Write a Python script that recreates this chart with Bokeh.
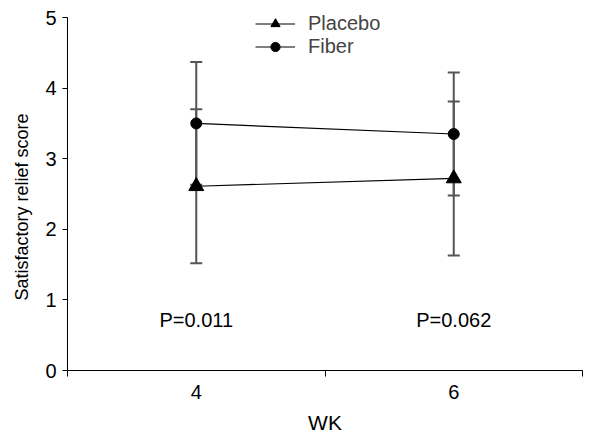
from bokeh.plotting import figure
from bokeh.models import (Range1d, FixedTicker, Whisker, TeeHead, ColumnDataSource,
                          Legend, LegendItem, Label)
from bokeh.embed import file_html
from bokeh.resources import INLINE

weeks = ["4", "6"]
placebo_mean = [2.61, 2.72]
placebo_sd = [1.09, 1.09]
fiber_mean = [3.50, 3.35]
fiber_sd = [0.87, 0.87]
p_values = ["P=0.011", "P=0.062"]
p_label_y = 0.72
y_ticks = [0, 1, 2, 3, 4, 5]

FONT = "Liberation Sans"
xs = [i + 0.5 for i in range(len(weeks))]

# frame spans pixel 8..370; value 5 sits at pixel 17 (70.6 px per unit)
p = figure(width=591, height=436, output_backend="svg", toolbar_location=None,
           x_range=Range1d(0, len(weeks)), y_range=Range1d(0, 5 + 9 / 70.6),
           min_border_left=67, min_border_right=9, min_border_top=8, min_border_bottom=66)
p.outline_line_color = None
p.xgrid.visible = False
p.ygrid.visible = False

# axes
p.xaxis.ticker = FixedTicker(ticks=xs, minor_ticks=list(range(len(weeks) + 1)))
p.xaxis.major_label_overrides = {x: w for x, w in zip(xs, weeks)}
p.xaxis.major_tick_out = 0
p.xaxis.major_tick_in = 0
p.xaxis.minor_tick_out = 6
p.xaxis.minor_tick_in = 0
p.xaxis.axis_label = "WK"
p.yaxis.ticker = FixedTicker(ticks=y_ticks)
p.yaxis.bounds = (0, 5)
p.yaxis.major_tick_out = 5
p.yaxis.major_tick_in = 0
p.yaxis.minor_tick_line_color = None
# trailing no-break spaces shift the visible label down to its reference position
p.yaxis.axis_label = "Satisfactory relief score" + "\u00a0" * 7
for ax in (p.xaxis[0], p.yaxis[0]):
    ax.axis_line_color = "black"
    ax.major_tick_line_color = "black"
    ax.major_label_text_font = FONT
    ax.major_label_text_font_size = "20px"
    ax.major_label_text_color = "black"
    ax.axis_label_text_font = FONT
    ax.axis_label_text_font_style = "normal"
    ax.axis_label_text_color = "black"
p.xaxis.axis_label_text_font_size = "21px"
p.yaxis.axis_label_text_font_size = "18px"
p.xaxis.minor_tick_line_color = "black"
p.xaxis.major_label_standoff = 8
p.xaxis.axis_label_standoff = 9
p.yaxis.major_label_standoff = 6
p.yaxis.axis_label_standoff = 10

# error bars
for means, sds in ((placebo_mean, placebo_sd), (fiber_mean, fiber_sd)):
    src = ColumnDataSource(dict(x=xs, lo=[m - s for m, s in zip(means, sds)],
                                hi=[m + s for m, s in zip(means, sds)]))
    w = Whisker(base="x", lower="lo", upper="hi", source=src, dimension="height",
                line_color="#555555", line_width=2,
                lower_head=TeeHead(size=12, line_color="#555555", line_width=2),
                upper_head=TeeHead(size=12, line_color="#555555", line_width=2))
    p.add_layout(w)

# series
lp = p.line(xs, placebo_mean, line_color="black", line_width=1.2)
sp = p.scatter(xs, placebo_mean, marker="triangle", size=15, fill_color="black", line_color="black")
lf = p.line(xs, fiber_mean, line_color="black", line_width=1.2)
sf = p.scatter(xs, fiber_mean, marker="circle", size=11, fill_color="black", line_color="black")

legend = Legend(items=[LegendItem(label="Placebo", renderers=[lp, sp]),
                       LegendItem(label="Fiber", renderers=[lf, sf])],
                location=(188, 312), orientation="vertical",
                border_line_color=None, background_fill_alpha=0,
                label_text_font=FONT, label_text_font_size="20px",
                glyph_width=40, glyph_height=23, label_height=23,
                spacing=0, padding=0, margin=0, label_standoff=13)
p.add_layout(legend, "center")

for x, t in zip(xs, p_values):
    p.add_layout(Label(x=x, y=p_label_y, text=t, text_font=FONT, text_font_size="20px",
                       text_align="center", text_baseline="middle", text_color="black"))

open("out.html", "w").write(file_html(p, INLINE))
